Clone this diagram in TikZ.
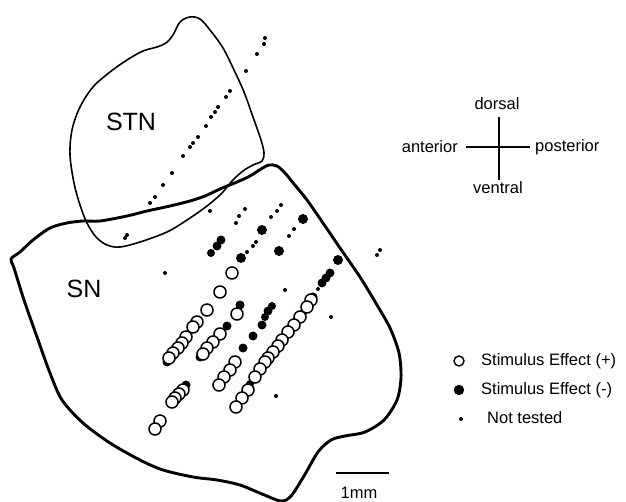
\documentclass[tikz,border=0pt]{standalone}
\usepackage{fontspec}
\setmainfont{Liberation Sans}
\begin{document}
\begin{tikzpicture}[x=1pt,y=-1pt,
  lbl/.style={font=\fontsize{16.5}{18}\selectfont, inner sep=0pt},
  big/.style={font=\fontsize{25}{28}\selectfont, inner sep=0pt},
  opn/.style={draw=black, fill=white, line width=1.5pt},
  fld/.style={fill=black},
  sml/.style={fill=black}]
\useasboundingbox (0,0) rectangle (626,502);

% STN outline (thin)
\draw[line width=1.6pt, line join=round] plot[smooth cycle, tension=0.55] coordinates {
 (190,17) (200,19) (210,30) (223,48) (234,70) (244,92) (253,117) (261,140) (264,153) (262,161)
 (253,165) (243,171) (232,181) (222,193) (207,206) (187,220) (167,232) (140,242) (120,247)
 (107,245) (96,237) (87,223) (80,205) (74,183) (70,155) (72,130) (80,107) (93,87) (110,72)
 (127,60) (143,51) (157,47) (166,43) (173,35) (180,22)};

% SN outline (thick)
\draw[line width=2.9pt, line join=round] plot[smooth cycle, tension=0.5] coordinates {
 (11,259) (20,252) (33,240) (50,228) (67,223) (83,221) (100,221) (127,216) (147,211) (170,206)
 (190,201) (205,196) (220,189) (237,182) (250,176) (261,169) (269,165) (277,166) (285,173)
 (294,184) (307,200) (323,223) (340,248) (360,277) (377,305) (390,328) (399,353) (401,378)
 (397,400) (384,420) (365,432) (345,436) (331,440) (318,452) (304,476) (291,496) (281,501)
 (262,494) (240,485) (217,480) (193,477) (163,470) (140,460) (110,443) (83,423) (62,400)
 (50,373) (37,337) (24,300) (14,268)};

% small dots (not tested)
\foreach \p in {(265,38),(264,44),(257,54),(246,71),(230,91),(226,97),(218,107),(215,112),
  (211,117),(206,126),(198,137),(193,143),(190,147),(183,156),(172,173),(163,185),(155,197),
  (150,203),(127,235),(125,238),(210,211),(245,209),(239,216),(236,223),(281,205),(277,211),
  (271,217),(294,229),(289,236),(256,242),(253,246),(247,252),(165,273),(285,290),(318,289),
  (331,317),(276,396),(380,250),(377,255)}
  \fill[sml] \p circle (2);

% filled circles (stimulus effect -)
\foreach \p/\r in {(303,219)/5,(262,230)/5,(221,240)/4.5,(217,246)/4.5,(211,253)/4,
  (241,258)/5,(279,251)/5,(338,260)/5,(330,273)/4.5,(326,278)/4.5,(322,283)/4.5,(313,297)/4.5,
  (240,305)/4.5,(272,306)/4,(268,311)/4.5,(265,317)/4,(262,325)/4.5,(253,336)/4.5,(243,348)/4.5,
  (227,326)/4.5,(200,357)/4.5,(167,362)/4.5,(186,385)/4.5,(250,384)/4,(262,367)/4,(245,396)/4,
  (290,329)/4,(303,313)/4}
  \fill[fld] \p circle (\r);

% open circles (stimulus effect +)
\foreach \p in {(232,273),(220,292),(207,310),(197,322),(193,327),(186,337),(182,343),
  (178,348),(173,353),(169,358),
  (183,390),(179,394),(175,398),(172,402),(160,421),(155,429),
  (237,314),(220,334),(213,342),(207,348),(203,354),
  (235,362),(230,370),(224,377),(219,385),
  (311,300),(307,307),(300,317),(294,325),(288,332),(282,340),(278,346),(273,352),(268,358),
  (265,362),(260,369),(255,377),(248,390),(242,398),(236,407)}
  \filldraw[opn] \p circle (6);

% labels
\node[big] (stn) at (131,122) {STN};
\node[big] (sn) at (84,289) {SN};

% orientation cross
\coordinate (cT) at (499,117);
\coordinate (cB) at (499,180);
\coordinate (cL) at (466,147);
\coordinate (cR) at (530,147);
\draw[line width=1.5pt] (cT) -- (cB);
\draw[line width=1.5pt] (cL) -- (cR);
\node[lbl] (dorsal) at (497,104) {dorsal};
\node[lbl] (ventral) at (498,188) {ventral};
\node[lbl, anchor=east] (anterior) at (458,147) {anterior};
\node[lbl, anchor=west] (posterior) at (535,147) {posterior};

% legend
\filldraw[opn, line width=1.4pt] (459,361) circle (5);
\fill[fld] (459,390) circle (5.2);
\fill[sml] (461,419) circle (2);
\node[lbl, anchor=west] (lp) at (481,361) {Stimulus Effect (+)};
\node[lbl, anchor=west] (lm) at (481,390) {Stimulus Effect (-)};
\node[lbl, anchor=west] (ln) at (487,418) {Not tested};

% scale bar
\coordinate (sb1) at (336,473);
\coordinate (sb2) at (389,473);
\draw[line width=2.8pt] (sb1) -- (sb2);
\node[lbl] (mm) at (359,493) {1mm};
\end{tikzpicture}
\end{document}
